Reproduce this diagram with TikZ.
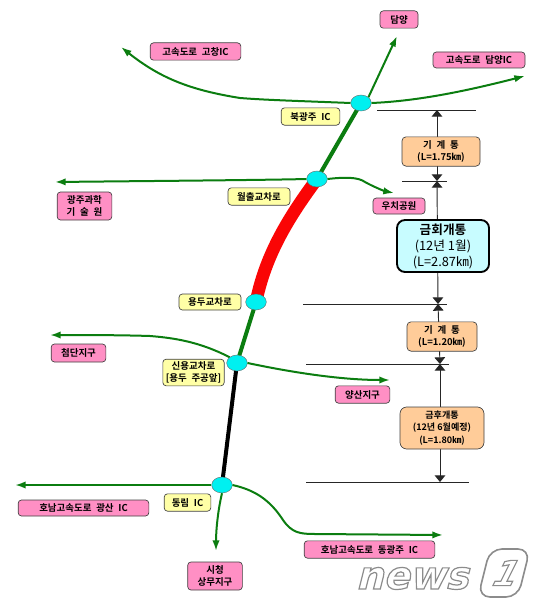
\documentclass[tikz,border=0pt]{standalone}
\usepackage{fontspec}
\setmainfont{Noto Sans CJK KR}[BoldFont={* Bold}]
\newfontfamily\logofont{DejaVu Sans}[FakeSlant=0.25,BoldFont={* Bold}]
\usetikzlibrary{positioning, shapes.geometric, arrows.meta, backgrounds}
\definecolor{rdgreen}{HTML}{0B7D10}
\definecolor{rdred}{HTML}{FA0505}
\definecolor{icpink}{HTML}{FF8FC4}
\definecolor{icyellow}{HTML}{FFFFA6}
\definecolor{icorange}{HTML}{FFCC99}
\definecolor{icblue}{HTML}{C8FCFF}
\definecolor{iccyan}{HTML}{00F0F0}
\definecolor{logogray}{HTML}{8C8C8C}
\newcommand{\labelfont}{\fontsize{7.1}{8.6}\selectfont\bfseries\spaceskip=0.5em\relax}
\newcommand{\outlined}[1]{\special{pdf:code 0.55 G 0.9 w 2 Tr}#1\special{pdf:code 0 G 0 Tr}}
\begin{document}
\begin{tikzpicture}[x=0.75pt, y=-0.75pt,
    pk/.style={draw=black!75, fill=icpink, rounded corners=2.5pt, font=\labelfont, inner sep=0pt, align=center, line width=0.5pt},
    yl/.style={pk, fill=icyellow},
    sec/.style={pk, fill=icorange, rounded corners=3pt},
    ic/.style={draw=black!60, fill=iccyan, ellipse, minimum width=15.5pt, minimum height=12pt, inner sep=0pt, line width=0.3pt},
    road/.style={draw=rdgreen, line width=1.5pt, -{Latex[length=8pt,width=5.5pt]}},
    main/.style={draw=rdgreen, line width=3pt},
    bar/.style={draw=black!85, line width=0.7pt},
    dim/.style={draw=black!85, line width=0.7pt, {Triangle[length=5pt,width=8pt]}-{Triangle[length=5pt,width=8pt]}}]
  \useasboundingbox (0,0) rectangle (540,610);
  % interchanges
  \node[ic] (buk) at (361,103) {};
  \node[ic] (wol) at (317,179) {};
  \node[ic] (yong) at (256,302) {};
  \node[ic] (sin) at (237,363) {};
  \node[ic] (dong) at (222,485) {};
  % road ends
  \coordinate (tgochang) at (121,47);
  \coordinate (tdamyang) at (397,36);
  \coordinate (tdamic) at (525,76);
  \coordinate (tgwangju) at (55,182);
  \coordinate (tuchi) at (394,193);
  \coordinate (tcheom) at (50,335);
  \coordinate (tyang) at (390,380);
  \coordinate (tgwangsan) at (15,486);
  \coordinate (tdgj) at (443,535);
  \coordinate (tsang) at (216,551);
  % main line
  \begin{scope}[on background layer]
    \draw[main] (buk.center) -- (wol.center);
    \draw[rdred, line width=9.5pt] (wol.center) .. controls (285,222) and (265,258) .. (yong.center);
    \draw[main] (yong.center) -- (sin.center);
    \draw[black, line width=3pt] (sin.center) -- (dong.center);
  \end{scope}
  % roads
  \draw[road] (buk.west) .. controls (300,101) and (265,100) .. (240,98) .. controls (190,90) and (160,78) .. (tgochang);
  \draw[road] (buk.north east) -- (tdamyang);
  \draw[road] (buk.east) .. controls (420,101) and (470,90) .. (tdamic);
  \draw[road] (wol.west) .. controls (270,180) and (150,181) .. (tgwangju);
  \draw[road] (wol.east) .. controls (345,177) and (358,177) .. (365,182) .. controls (372,186) and (384,191) .. (tuchi);
  \draw[road] (sin.north west) .. controls (200,342) and (175,338) .. (150,336) .. controls (120,335) and (80,335) .. (tcheom);
  \draw[road] (sin.east) .. controls (290,372) and (340,380) .. (tyang);
  \draw[road] (dong.west) -- (tgwangsan |- dong.west);
  \draw[road] (dong.south) .. controls (218,510) and (216,530) .. (tsang);
  \draw[road] (dong.east) .. controls (255,490) and (270,500) .. (283,520) .. controls (292,533) and (300,534) .. (315,534) -- (tdgj);
  % labels
  \node[pk, minimum width=68pt, minimum height=13pt] (gochang) at (195.5,51.5) {고속도로 고창IC};
  \node[pk, minimum width=28.5pt, minimum height=13pt] (damyang) at (399,19.5) {담양};
  \node[pk, minimum width=69pt, minimum height=12pt] (damic) at (479,60) {고속도로 담양IC};
  \node[pk, minimum width=41pt, minimum height=21pt] (gwangju) at (84.5,206) {광주과학\\기 술 원};
  \node[pk, minimum width=39pt, minimum height=12pt] (uchi) at (399,206) {우치공원};
  \node[pk, minimum width=41pt, minimum height=13.5pt] (cheom) at (78.5,353) {첨단지구};
  \node[pk, minimum width=41pt, minimum height=13pt] (yang) at (362.5,394.5) {양산지구};
  \node[pk, minimum width=98pt, minimum height=12pt] (gwangsan) at (83.5,508) {호남고속도로 광산 IC};
  \node[pk, minimum width=98pt, minimum height=13pt] (dgj) at (369.5,549.5) {호남고속도로 동광주 IC};
  \node[pk, minimum width=41pt, minimum height=21pt] (sang) at (215,576) {시청\\상무지구};
  \node[yl, minimum width=44pt, minimum height=13pt] (lbuk) at (310.5,116.5) {북광주 IC};
  \node[yl, minimum width=46.5pt, minimum height=13pt] (lwol) at (259,196.5) {월출교차로};
  \node[yl, minimum width=46.5pt, minimum height=12pt] (lyong) at (210,302) {용두교차로};
  \node[yl, minimum width=46pt, minimum height=20pt] (lsin) at (193.5,372.5) {신용교차로\\{}[용두 주공앞]};
  \node[yl, minimum width=35pt, minimum height=13pt] (ldong) at (187.5,502.5) {동림 IC};
  % section marks
  \coordinate (m1) at (437,110);
  \coordinate (m2) at (437,181);
  \coordinate (m3) at (438,304);
  \coordinate (m4) at (440,364);
  \coordinate (m5) at (440,482);
  \draw[bar] (377,110) -- (476,110);
  \draw[bar] (402,181) -- (447,181);
  \draw[bar] (303,304) -- (447,304);
  \draw[bar] (306,364) -- (449,364);
  \draw[bar] (306,482) -- (469,482);
  \draw[dim] (m1) -- (m2);
  \draw[dim] (m2) -- (m3);
  \draw[dim] (m3) -- (m4);
  \draw[dim] (m4) -- (m5);
  \node[sec, minimum width=58.5pt, minimum height=22pt] (gi1) at (441,151.5) {기 계 통\\(L=1.75㎞)};
  \node[sec, minimum width=52.5pt, minimum height=22pt] (gi2) at (442,336.5) {기 계 통\\(L=1.20㎞)};
  \node[sec, minimum width=63pt, minimum height=31.5pt, rounded corners=5pt, font=\fontsize{6.8}{9.2}\selectfont\bfseries] (geumhu) at (442,428) {금후개통\\(12년 6월예정)\\(L=1.80㎞)};
  \node[sec, fill=icblue, draw=black, line width=1.4pt, rounded corners=6pt, minimum width=69pt, minimum height=39pt, font=\fontsize{9.6}{12}\selectfont] (geumhoe) at (443,246) {{\fontsize{9.5}{12}\selectfont\bfseries 금회개통}\\\mdseries (12년 1월)\\\mdseries (L=2.87㎞)};
  % watermark
  \node[font=\logofont\bfseries\fontsize{29}{29}\selectfont, text=white, inner sep=0pt, anchor=base] (newsmark) at (412,589) {\outlined{news}};
  \node[draw=logogray, fill=white, line width=1.2pt, rounded corners=9pt, xslant=0.25, minimum width=30pt, minimum height=36pt, font=\logofont\bfseries\fontsize{26}{26}\selectfont, text=white, inner sep=0pt] (onemark) at (504,573) {\outlined{1}};
\end{tikzpicture}
\end{document}
